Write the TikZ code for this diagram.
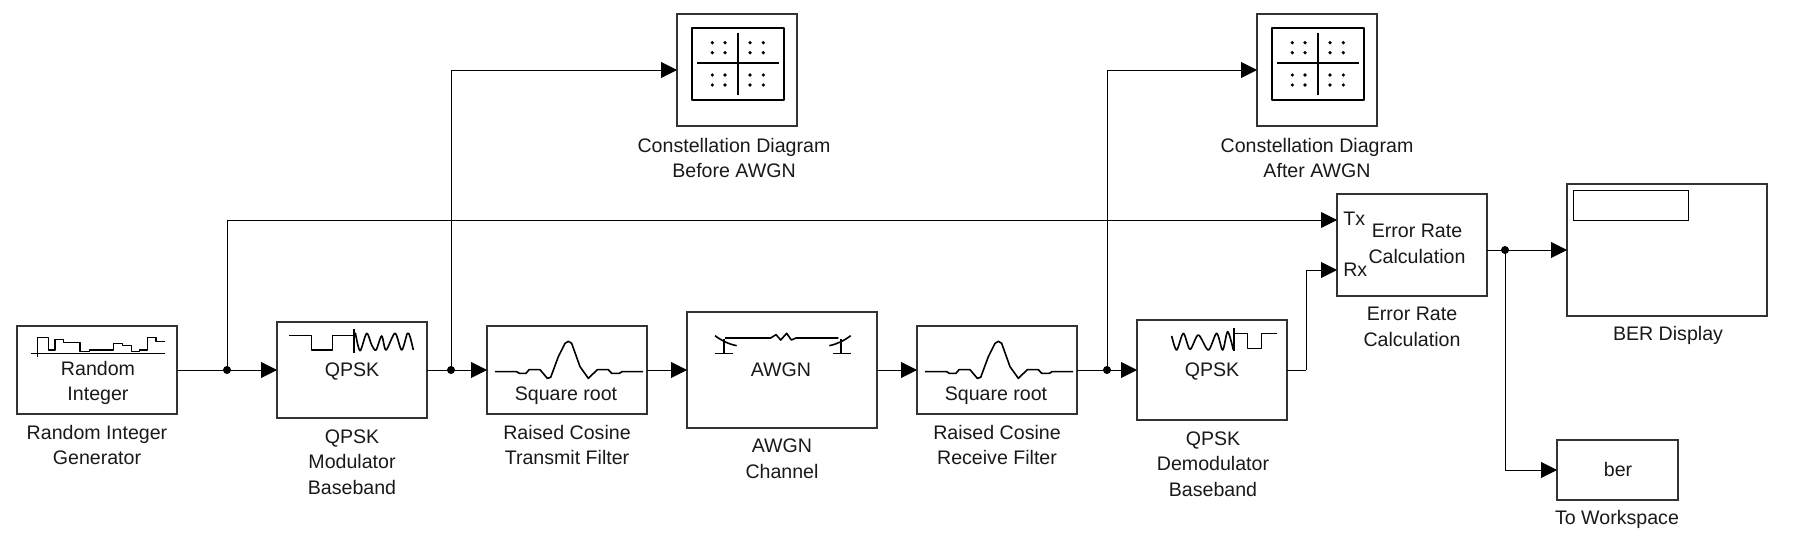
\documentclass[tikz,border=0pt]{standalone}
\usepackage{fontspec}
\setmainfont{Liberation Sans}
\usetikzlibrary{arrows.meta,shadows}
\tikzset{
  sized/.style 2 args={minimum width=#1*0.75pt,minimum height=#2*0.75pt},
  blockbox/.style={draw=black!80,line width=0.95pt,fill=white,inner sep=0pt,outer sep=0pt,
    drop shadow={shadow xshift=1.1pt,shadow yshift=-1.1pt,fill=black!30,opacity=1}},
  lbl/.style={inner sep=0pt,align=center,text=black!90,font=\fontsize{14.7}{19.2}\selectfont},
  wire/.style={draw=black,line width=0.65pt},
  arrowwire/.style={wire,-{Triangle[length=12pt,width=12pt]}},
  junction/.style={circle,fill=black,inner sep=0pt,minimum size=6pt},
  icon/.style={draw=black,line width=1.2pt,line join=round},
  zoomed/.style={x=0.25pt,y=-0.25pt},
}
\newcommand{\scopeicon}[2]{%
  \begin{scope}[shift={(#1,#2)}]
  \draw[icon,line width=1.5pt] (15,14) rectangle (107,86);
  \draw[icon,line width=1.4pt] (20,49.3) -- (102,49.3);
  \draw[icon,line width=1.4pt] (61,19) -- (61,81);
  \foreach \px in {35.3,48,73,86.3} \foreach \py in {28.7,38.7,61,71}
    \fill (\px,\py) circle (1.35pt);
  \end{scope}}
\begin{document}
\begin{tikzpicture}[x=0.75pt,y=-0.75pt]
\useasboundingbox (0,0) rectangle (1794,546);
% blocks
\node[blockbox,sized={160}{88}] (ri) at (97,370) {};
\node[blockbox,sized={150}{96}] (qm) at (352,370) {};
\node[blockbox,sized={160}{88}] (tx) at (567,370) {};
\node[blockbox,sized={190}{116}] (aw) at (782,370) {};
\node[blockbox,sized={160}{88}] (rf) at (997,370) {};
\node[blockbox,sized={150}{100}] (qd) at (1212,370) {};
\node[blockbox,sized={120}{112}] (cb) at (737,70) {};
\node[blockbox,sized={120}{112}] (ca) at (1317,70) {};
\node[blockbox,sized={150}{102}] (er) at (1412,245) {};
\node[blockbox,sized={200}{132}] (bd) at (1667,250) {};
\node[blockbox,sized={121}{60}] (tw) at (1617.5,470) {};
% anchor points
\coordinate (j1) at (227,370);
\coordinate (j2) at (451,370);
\coordinate (j3) at (1107,370);
\coordinate (j4) at (1505,250);
\coordinate (ptx) at (1337,220);
\coordinate (prx) at (1337,270);
\coordinate (pout) at (1487,250);
\coordinate (bend) at (1306,370);
% connectors
\draw[wire] (ri.east) -- (j1);
\draw[arrowwire] (j1) -- (qm.west);
\draw[wire] (qm.east) -- (j2);
\draw[arrowwire] (j2) -- (tx.west);
\draw[arrowwire] (tx.east) -- (aw.west);
\draw[arrowwire] (aw.east) -- (rf.west);
\draw[wire] (rf.east) -- (j3);
\draw[arrowwire] (j3) -- (qd.west);
\draw[arrowwire] (j1) |- (ptx);
\draw[arrowwire] (j2) |- (cb.west);
\draw[arrowwire] (j3) |- (ca.west);
\draw[wire] (qd.east) -- (bend);
\draw[arrowwire] (bend) |- (prx);
\draw[wire] (pout) -- (j4);
\draw[arrowwire] (j4) -- (bd.west);
\draw[arrowwire] (j4) |- (tw.west);
\node[junction] (dj1) at (j1) {};
\node[junction] (dj2) at (j2) {};
\node[junction] (dj3) at (j3) {};
\node[junction] (dj4) at (j4) {};
% texts inside
\node[lbl] (tri) at (98,383) {Random\\Integer};
\node[lbl] (tqm) at (352,372) {QPSK};
\node[lbl] (ttx) at (566,396) {Square root};
\node[lbl] (taw) at (781,370) {AWGN};
\node[lbl] (trf) at (996,396) {Square root};
\node[lbl] (tqd) at (1212,372) {QPSK};
\node[lbl,anchor=west] (ttxp) at (1343,219) {Tx};
\node[lbl,anchor=west] (trxp) at (1343,270) {Rx};
\node[lbl] (ter) at (1417,244) {Error Rate\\Calculation};
\node[lbl] (tber) at (1618,469) {ber};
% captions
\node[lbl] (cri) at (97,445) {Random Integer\\Generator};
\node[lbl] (cqm) at (352,462) {QPSK\\Modulator\\Baseband};
\node[lbl] (ctx) at (567,445) {Raised Cosine\\Transmit Filter};
\node[lbl] (caw) at (782,459) {AWGN\\Channel};
\node[lbl] (crf) at (997,445) {Raised Cosine\\Receive Filter};
\node[lbl] (cqd) at (1213,464) {QPSK\\Demodulator\\Baseband};
\node[lbl] (cer) at (1412,327) {Error Rate\\Calculation};
\node[lbl] (cbd) at (1668,335) {BER Display};
\node[lbl] (ctw) at (1617,519) {To Workspace};
\node[lbl] (ccb) at (734,158) {Constellation Diagram\\Before AWGN};
\node[lbl] (cca) at (1317,158) {Constellation Diagram\\After AWGN};
% BER inner display
\draw[draw=black,line width=0.6pt] (1573,190) rectangle (1688,220);
% constellation icons
\scopeicon{677}{14}
\scopeicon{1257}{14}
% random integer icon
\begin{scope}[shift={(0,300)},zoomed]
\draw[icon] (93,161) -- (495,161);
\draw[icon] (113,170)--(113,113)--(146,113)--(146,150)--(165,150)--(165,118)--(190,118)--(190,128)--(240,128)--(240,155)--(268,155)--(268,150)--(340,150)--(340,130)--(368,130)--(368,136)--(395,136)--(395,155)--(418,155)--(418,150)--(443,150)--(443,113)--(468,113)--(468,125)--(495,125);
% QPSK modulator icon
\draw[icon] (867,106)--(935,106)--(935,150)--(997,150)--(997,106)--(1060,106);
\draw[icon] (1062,88)--(1062,158);
\draw[icon] plot[smooth,tension=0.5] coordinates {(1066,98)(1080,152)(1100,100)(1115,135)(1128,150)(1145,108)(1158,150)(1185,100)(1205,150)(1222,100)(1230,110)(1240,150)};
\end{scope}
% raised cosine icons
\foreach \ox in {460,890}{
\begin{scope}[shift={(\ox,300)},zoomed]
\draw[icon] (105,215)--(170,215)--(178,220)--(198,220)--(207,209)--(240,209)--(262,235)--(272,232)--(295,170)--(315,130)--(325,124)--(335,130)--(360,200)--(385,235)--(412,209)--(445,209)--(455,220)--(478,220)--(486,215)--(549,215);
\end{scope}}
% AWGN icon
\begin{scope}[shift={(460,300)},zoomed]
\draw[icon] (795,114)--(932,114)--(948,104)--(962,120)--(980,100)--(994,120)--(1008,114)--(1135,114);
\draw[icon] (765,107) .. controls (785,122) and (805,132) .. (830,137);
\draw[icon] (792,118)--(792,160) (765,160)--(818,160);
\draw[icon] (1172,107) .. controls (1152,122) and (1132,132) .. (1108,137);
\draw[icon] (1143,118)--(1143,160) (1118,160)--(1172,160);
\end{scope}
% QPSK demodulator icon
\begin{scope}[shift={(900,300)},zoomed]
\draw[icon] plot[smooth,tension=0.5] coordinates {(815,108)(830,150)(850,100)(870,148)(895,105)(925,150)(950,100)(968,150)(983,95)(1000,150)};
\draw[icon] (1002,85)--(1002,152);
\draw[icon] (1002,100)--(1042,100)--(1042,145)--(1085,145)--(1085,100)--(1130,100);
\end{scope}
\end{tikzpicture}
\end{document}
